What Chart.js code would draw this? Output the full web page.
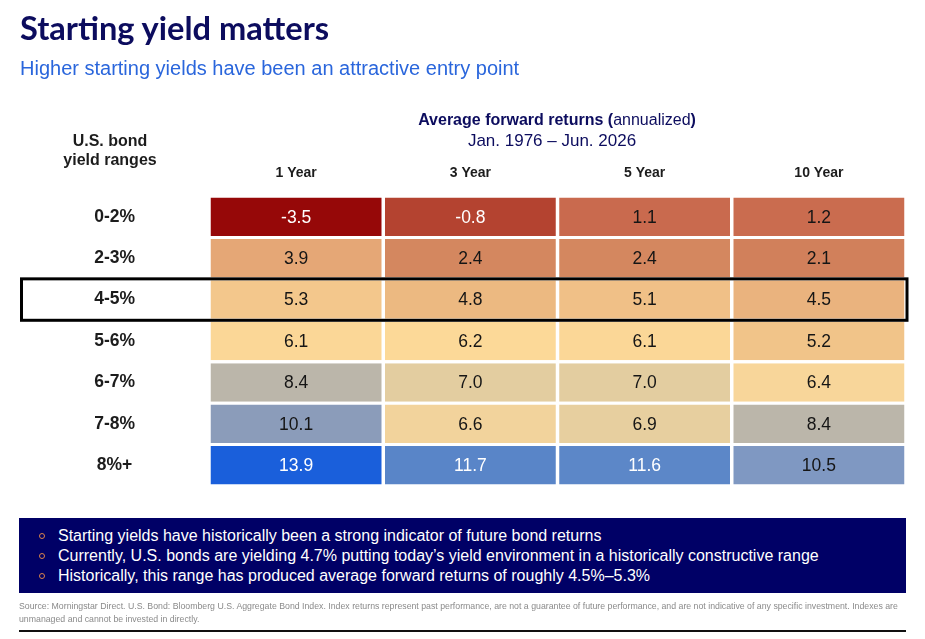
<!DOCTYPE html>
<html>
<head>
<meta charset="utf-8">
<script src="https://cdn.jsdelivr.net/npm/chart.js@4.4.1/dist/chart.umd.min.js"></script>
<style>
  body { margin: 0; width: 925px; height: 639px; position: relative; overflow: hidden; background: #fff; font-family: "Liberation Sans", Arial, sans-serif; }
  #heat { position: absolute; left: 0; top: 0; }
  .t { position: absolute; white-space: nowrap; }
  #title { left: 20px; top: 11px; font: bold 32.6px Lato, sans-serif; line-height: 34px; color: #0c0c5e; }
  #subtitle { left: 20px; top: 56px; font-size: 20px; line-height: 24px; color: #2a66dc; }
  #rowHead { left: 50px; width: 120px; top: 131px; text-align: center; font-weight: bold; font-size: 16px; line-height: 19px; color: #1c1c1c; }
  #colHead { left: 407px; width: 300px; top: 109px; text-align: center; font-size: 16px; line-height: 21px; color: #0c0c5e; }
  #colHead .d { font-size: 17px; position: relative; left: -5px; }
  #notes { position: absolute; left: 19px; top: 518px; width: 887px; height: 75px; background: #000066; color: #fff; font-size: 16px; line-height: 20px; box-sizing: border-box; padding-top: 8px; }
  #notes div { position: relative; padding-left: 39px; white-space: nowrap; }
  #notes div span { position: absolute; left: 20px; top: 7px; width: 4px; height: 4px; border: 1px solid #d9824a; border-radius: 50%; }
  #source { left: 19px; top: 600px; font-size: 8.75px; line-height: 13px; color: #8a8a8a; }
  #rule { position: absolute; left: 19px; top: 630px; width: 887px; height: 2px; background: #111; }
</style>
</head>
<body>
<canvas id="heat" width="925" height="639"></canvas>
<div class="t" id="title">Starting yield matters</div>
<div class="t" id="subtitle">Higher starting yields have been an attractive entry point</div>
<div class="t" id="rowHead">U.S. bond<br>yield ranges</div>
<div class="t" id="colHead"><b>Average forward returns (</b>annualized<b>)</b><br><span class="d">Jan. 1976 – Jun. 2026</span></div>
<div id="notes">
  <div><span></span>Starting yields have historically been a strong indicator of future bond returns</div>
  <div><span></span>Currently, U.S. bonds are yielding 4.7% putting today’s yield environment in a historically constructive range</div>
  <div><span></span>Historically, this range has produced average forward returns of roughly 4.5%–5.3%</div>
</div>
<div class="t" id="source">Source: Morningstar Direct. U.S. Bond: Bloomberg U.S. Aggregate Bond Index. Index returns represent past performance, are not a guarantee of future performance, and are not indicative of any specific investment. Indexes are<br>unmanaged and cannot be invested in directly.</div>
<div id="rule"></div>
<script>
// yield buckets (rows) and forward return horizons (columns)
const yieldRanges = ['0-2%', '2-3%', '4-5%', '5-6%', '6-7%', '7-8%', '8%+'];
const horizons = ['1 Year', '3 Year', '5 Year', '10 Year'];

// average forward returns (%), one array per horizon, same order as yieldRanges
const oneYear = [-3.5, 3.9, 5.3, 6.1, 8.4, 10.1, 13.9];
const threeYear = [-0.8, 2.4, 4.8, 6.2, 7.0, 6.6, 11.7];
const fiveYear = [1.1, 2.4, 5.1, 6.1, 7.0, 6.9, 11.6];
const tenYear = [1.2, 2.1, 4.5, 5.2, 6.4, 8.4, 10.5];

const highlightRange = '4-5%';

// colour ramp: red for low returns, sand in the middle, blue for high
const colorStops = [
  [-3.5, '#960808'], [-0.8, '#b44330'], [1.1, '#c96a4e'], [2.4, '#d4875f'],
  [3.9, '#e5a776'], [5.0, '#eebd84'], [5.3, '#f3c78c'], [6.2, '#fcd998'],
  [6.5, '#f6d59b'], [7.0, '#e3cda0'], [8.4, '#bbb6aa'], [10.1, '#8b9cba'],
  [10.5, '#7f98c2'], [11.65, '#5a86c8'], [13.9, '#1a5fdb']
];

function hexToRgb(h) {
  return [1, 3, 5].map(i => parseInt(h.slice(i, i + 2), 16));
}

function colorFor(v) {
  if (v <= colorStops[0][0]) return colorStops[0][1];
  for (let i = 1; i < colorStops.length; i++) {
    const [v1, c1] = colorStops[i];
    const [v0, c0] = colorStops[i - 1];
    if (v <= v1) {
      const t = (v - v0) / (v1 - v0);
      const a = hexToRgb(c0), b = hexToRgb(c1);
      return 'rgb(' + a.map((x, k) => Math.round(x + (b[k] - x) * t)).join(',') + ')';
    }
  }
  return colorStops[colorStops.length - 1][1];
}

const returnsByHorizon = [oneYear, threeYear, fiveYear, tenYear];

const datasets = returnsByHorizon.map((values, c) => ({
  label: horizons[c],
  data: values.map((v, r) => ({ x: [c, c + 1], y: yieldRanges[r], v: v })),
  backgroundColor: ctx => colorFor(ctx.raw.v),
  borderColor: '#ffffff',
  borderWidth: { left: 1.75, right: 1.75, top: 0, bottom: 0 },
  borderSkipped: false,
  barPercentage: 0.93,
  categoryPercentage: 1
}));

// numbers inside the cells + box around the highlighted row
const cellLabels = {
  id: 'cellLabels',
  afterDatasetsDraw(chart) {
    const ctx = chart.ctx;
    ctx.save();
    ctx.font = '17.5px "Liberation Sans", Arial, sans-serif';
    ctx.textAlign = 'center';
    ctx.textBaseline = 'middle';
    chart.data.datasets.forEach((ds, i) => {
      chart.getDatasetMeta(i).data.forEach((bar, j) => {
        const v = ds.data[j].v;
        const p = bar.getCenterPoint();
        ctx.fillStyle = (v < 0 || v > 11) ? '#ffffff' : '#151515';
        ctx.fillText(v.toFixed(1), p.x, p.y + 1);
      });
    });

    const y = chart.scales.y;
    const x = chart.scales.x;
    const idx = yieldRanges.indexOf(highlightRange);
    const cy = y.getPixelForValue(idx);
    const half = (y.getPixelForValue(1) - y.getPixelForValue(0)) / 2;
    ctx.strokeStyle = '#000';
    ctx.lineWidth = 3;
    ctx.strokeRect(21.5, cy - half, x.right + 1 - 21.5, half * 2);
    ctx.restore();
  }
};

new Chart(document.getElementById('heat'), {
  type: 'bar',
  data: { labels: yieldRanges, datasets: datasets },
  options: {
    responsive: false,
    animation: false,
    indexAxis: 'y',
    layout: { padding: { top: 160, bottom: 153, left: 0, right: 19 } },
    datasets: { bar: { grouped: false } },
    scales: {
      x: {
        position: 'top',
        min: 0,
        max: 4,
        grid: { display: false, drawTicks: false },
        border: { display: false },
        afterBuildTicks: s => { s.ticks = horizons.map((h, i) => ({ value: i + 0.5 })); },
        afterFit: s => { s.height = 36; },
        ticks: {
          padding: 14,
          color: '#1c1c1c',
          font: { family: '"Liberation Sans", Arial, sans-serif', size: 14, weight: 'bold' },
          callback: (value, index) => horizons[index]
        }
      },
      y: {
        grid: { display: false, drawTicks: false },
        border: { display: false },
        afterFit: s => { s.width = 209; },
        ticks: {
          crossAlign: 'center',
          padding: 74,
          color: '#1c1c1c',
          font: { family: '"Liberation Sans", Arial, sans-serif', size: 17.5, weight: 'bold' }
        }
      }
    },
    plugins: {
      legend: { display: false },
      tooltip: { enabled: false }
    }
  },
  plugins: [cellLabels]
});
</script>
</body>
</html>
